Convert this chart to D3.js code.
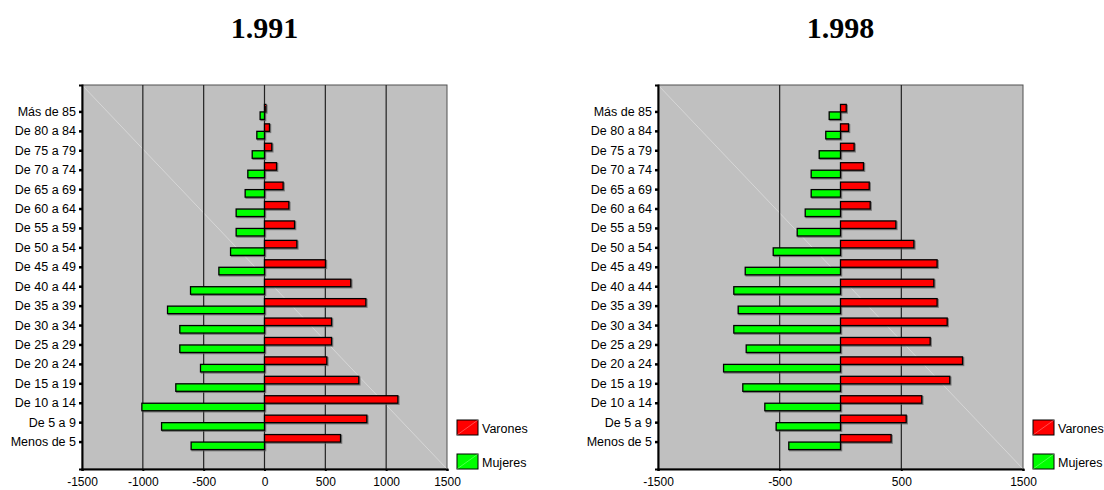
<!DOCTYPE html>
<html>
<head>
<meta charset="utf-8">
<script src="https://cdn.jsdelivr.net/npm/d3@7"></script>
<style>
  body { margin: 0; background: #fff; }
  svg text { font-family: "Liberation Sans", Arial, sans-serif; }
  .title { font-family: "Liberation Serif", "Times New Roman", serif !important; font-weight: bold; }
</style>
</head>
<body>
<div id="chart"></div>
<script>
// age groups, youngest first
const ages = ["Menos de 5", "De 5 a 9", "De 10 a 14", "De 15 a 19", "De 20 a 24", "De 25 a 29",
  "De 30 a 34", "De 35 a 39", "De 40 a 44", "De 45 a 49", "De 50 a 54", "De 55 a 59",
  "De 60 a 64", "De 65 a 69", "De 70 a 74", "De 75 a 79", "De 80 a 84", "Más de 85"];

const varones1991 = [625, 841, 1096, 775, 512, 551, 551, 833, 709, 501, 266, 247, 200, 153, 99, 60, 41, 11];
const mujeres1991 = [603, 846, 1008, 729, 526, 696, 696, 797, 608, 375, 279, 233, 233, 159, 137, 101, 63, 36];

const varones1998 = [416, 540, 668, 898, 1003, 737, 877, 794, 767, 794, 603, 455, 244, 236, 189, 112, 66, 47];
const mujeres1998 = [425, 529, 622, 803, 961, 775, 877, 841, 877, 783, 553, 356, 290, 241, 241, 175, 121, 93];

const ticks1991 = [-1500, -1000, -500, 0, 500, 1000, 1500];
const ticks1998 = [-1500, -500, 500, 1500];

const series = ["Varones", "Mujeres"];
const colors = { Varones: "#ff0000", Mujeres: "#00ff00" };

const svg = d3.select("#chart").append("svg")
  .attr("width", 1104)
  .attr("height", 490);

const plotW = 365, plotH = 384, plotTop = 85;

function pyramid(left, title, varones, mujeres, ticks) {
  const g = svg.append("g").attr("transform", `translate(${left},${plotTop})`);

  const x = d3.scaleLinear().domain([-1500, 1500]).range([0, plotW]);
  const y = d3.scaleBand()
    .domain(ages.slice().reverse())
    .range([0, plotH])
    .paddingInner(0.227)
    .paddingOuter(1.0);
  const ySub = d3.scaleBand().domain(series).range([0, y.bandwidth()]);

  // background
  g.append("rect")
    .attr("width", plotW).attr("height", plotH)
    .attr("fill", "#c0c0c0")
    .attr("stroke", "#505050").attr("stroke-width", 1);

  // faint diagonal from the gradient fill
  g.append("line")
    .attr("x1", 0).attr("y1", 0).attr("x2", plotW).attr("y2", plotH)
    .attr("stroke", "#dcdcdc").attr("stroke-width", 0.8);

  // gridlines (interior ticks only)
  g.selectAll(".grid")
    .data(ticks.filter(t => t > -1500 && t < 1500))
    .enter().append("line")
    .attr("x1", d => x(d)).attr("x2", d => x(d))
    .attr("y1", 0).attr("y2", plotH)
    .attr("stroke", "#222").attr("stroke-width", 1.2);

  const rows = [];
  ages.forEach((a, i) => {
    rows.push({ age: a, sex: "Varones", value: varones[i] });
    rows.push({ age: a, sex: "Mujeres", value: -mujeres[i] });
  });

  const bx = d => Math.min(x(0), x(d.value));
  const bw = d => Math.abs(x(d.value) - x(0));
  const by = d => y(d.age) + ySub(d.sex);

  // shadows
  g.selectAll(".shadow")
    .data(rows).enter().append("rect")
    .attr("x", d => bx(d) + 1).attr("y", d => by(d) + 1)
    .attr("width", bw).attr("height", ySub.bandwidth())
    .attr("fill", "none")
    .attr("stroke", "#555").attr("stroke-opacity", 0.7).attr("stroke-width", 1.5);

  g.selectAll(".bar")
    .data(rows).enter().append("rect")
    .attr("x", bx).attr("y", by)
    .attr("width", bw).attr("height", ySub.bandwidth())
    .attr("fill", d => colors[d.sex])
    .attr("stroke", "#000").attr("stroke-width", 1.3);

  // y axis
  const yAxis = g.append("g")
    .call(d3.axisLeft(y).tickSize(3).tickPadding(3));
  yAxis.select(".domain").attr("stroke", "#000").attr("stroke-width", 2);
  yAxis.selectAll(".tick line").attr("stroke-width", 2.5);
  yAxis.selectAll("text").style("font-size", "12.5px").attr("fill", "#000");

  // x axis
  const xAxis = g.append("g")
    .attr("transform", `translate(0,${plotH})`)
    .call(d3.axisBottom(x).tickValues(ticks).tickSize(2).tickPadding(6).tickFormat(d => String(d)));
  xAxis.select(".domain").attr("stroke", "#000").attr("stroke-width", 2);
  xAxis.selectAll(".tick line").attr("stroke-width", 2);
  xAxis.selectAll("text").style("font-size", "12px").attr("fill", "#000");

  // title
  g.append("text")
    .attr("class", "title")
    .attr("x", plotW / 2).attr("y", 38 - plotTop)
    .attr("text-anchor", "middle")
    .style("font-size", "30px")
    .text(title);

  // legend
  const legend = g.append("g").attr("transform", `translate(${plotW + 10}, ${335})`);
  series.forEach((s, i) => {
    const lg = legend.append("g").attr("transform", `translate(0, ${i * 34})`);
    lg.append("rect").attr("width", 21).attr("height", 15)
      .attr("fill", colors[s]).attr("stroke", "#000").attr("stroke-width", 1);
    lg.append("line").attr("x1", 0).attr("y1", 15).attr("x2", 21).attr("y2", 0)
      .attr("stroke", "#fff").attr("stroke-opacity", 0.5).attr("stroke-width", 0.6);
    lg.append("text")
      .attr("x", 25).attr("y", 12.5)
      .style("font-size", "12.5px")
      .text(s);
  });
}

pyramid(82, "1.991", varones1991, mujeres1991, ticks1991);
pyramid(658, "1.998", varones1998, mujeres1998, ticks1998);
</script>
</body>
</html>
